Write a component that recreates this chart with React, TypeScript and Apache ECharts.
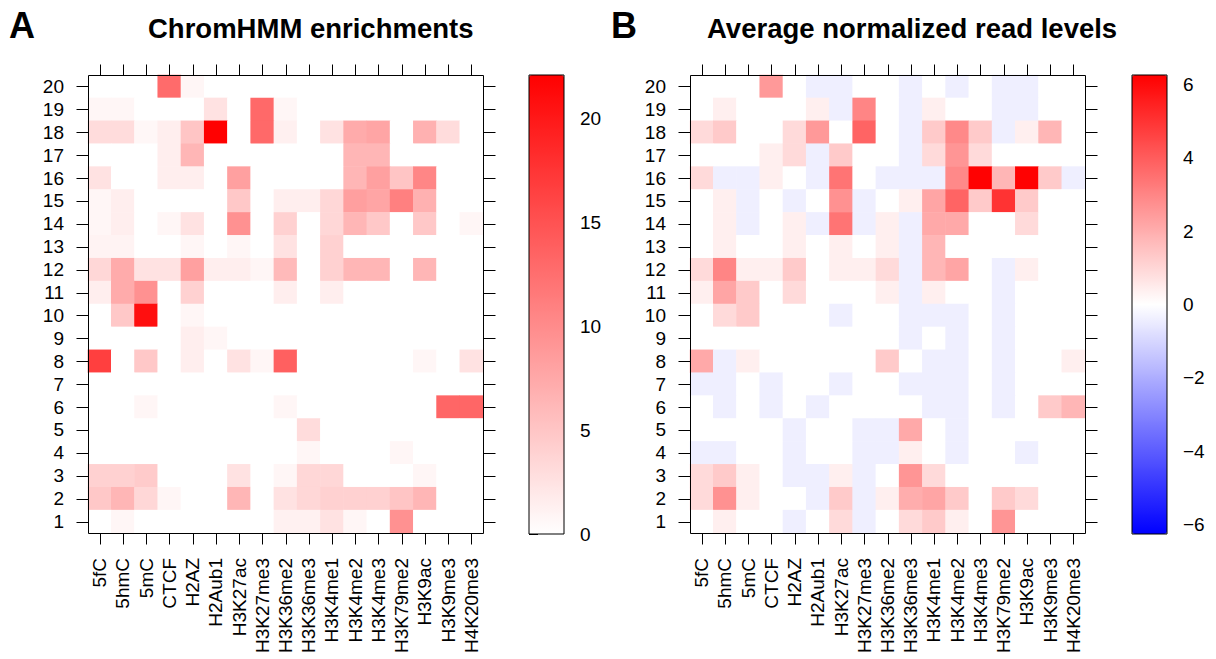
import React, { useEffect, useRef } from 'react';
import * as echarts from 'echarts';

const marks = ['5fC', '5hmC', '5mC', 'CTCF', 'H2AZ', 'H2Aub1', 'H3K27ac', 'H3K27me3', 'H3K36me2', 'H3K36me3', 'H3K4me1', 'H3K4me2', 'H3K4me3', 'H3K79me2', 'H3K9ac', 'H3K9me3', 'H4K20me3'];
const states = ['1', '2', '3', '4', '5', '6', '7', '8', '9', '10', '11', '12', '13', '14', '15', '16', '17', '18', '19', '20'];
const enrichTicks = [0, 5, 10, 15, 20];
const levelTicks = [-6, -4, -2, 0, 2, 4, 6];
const enrichMax = 22.1;
const levelMax = 6.25;

// rows listed from state 20 (top) down to state 1 (bottom)
const chromhmmTopDown: number[][] = [
  [0, 0, 0, 12.8, 0.8, 0, 0, 0, 0, 0, 0, 0, 0, 0, 0, 0, 0],
  [0.8, 0.8, 0, 0, 0, 2.5, 0, 13, 0.8, 0, 0, 0, 0, 0, 0, 0, 0],
  [3, 3, 0.7, 1.5, 5, 22, 0, 13, 1.3, 0, 2.5, 7.3, 7.8, 0, 6.8, 3, 0],
  [0, 0, 0, 1.5, 6.3, 0, 0, 0, 0, 0, 0, 6.3, 6.3, 0, 0, 0, 0],
  [2.5, 0, 0, 1.5, 1.5, 0, 8.2, 0, 0, 0, 0, 6.3, 8.2, 5, 10.5, 0, 0],
  [0.8, 1.5, 0, 0, 0, 0, 4.8, 0, 1.5, 1.5, 3.5, 8.3, 7.8, 11, 6.8, 0, 0],
  [0.8, 1.5, 0, 0.8, 2.5, 0, 9.5, 0, 4, 0, 3.5, 6.3, 4.8, 0, 4.8, 0, 0.8],
  [1, 1, 0, 0, 0.8, 0, 0.8, 0, 2.5, 0, 4, 0, 0, 0, 0, 0, 0],
  [3.5, 7.3, 2.5, 2.5, 8.2, 1.5, 1.5, 0.8, 6, 0, 4, 6.3, 6.3, 0, 6.3, 0, 0],
  [1.5, 7.3, 9.5, 0, 4, 0, 0, 0, 1.5, 0, 1.5, 0, 0, 0, 0, 0, 0],
  [0, 4.8, 20.8, 0, 0.8, 0, 0, 0, 0, 0, 0, 0, 0, 0, 0, 0, 0],
  [0, 0, 0, 0, 1.5, 0.8, 0, 0, 0, 0, 0, 0, 0, 0, 0, 0, 0],
  [16.6, 0, 4.8, 0, 1.5, 0, 2.5, 0.8, 13.8, 0, 0, 0, 0, 0, 0.8, 0, 2.5],
  [0, 0, 0, 0, 0, 0, 0, 0, 0, 0, 0, 0, 0, 0, 0, 0, 0],
  [0, 0, 0.8, 0, 0, 0, 0, 0, 0.8, 0, 0, 0, 0, 0, 0, 13.3, 13.3],
  [0, 0, 0, 0, 0, 0, 0, 0, 0, 3, 0, 0, 0, 0, 0, 0, 0],
  [0, 0, 0, 0, 0, 0, 0, 0, 0, 0.8, 0, 0, 0, 0.8, 0, 0, 0],
  [4, 4, 4.5, 0, 0, 0, 2.5, 0, 0.8, 3.5, 3.5, 0, 0, 0, 0.8, 0, 0],
  [4.8, 6.3, 3.5, 0.8, 0, 0, 6.3, 0, 2.5, 3.5, 4, 4, 4, 5, 6.3, 0, 0],
  [0, 0.8, 0, 0, 0, 0, 0, 0, 1.2, 1.2, 2.5, 0.8, 0, 9.5, 0, 0, 0],
];

const readLevelsTopDown: number[][] = [
  [0, 0, 0, 2.5, 0, -0.4, -0.4, 0, 0, -0.4, 0, -0.4, 0, -0.4, -0.4, 0, 0],
  [0, 0.4, 0, 0, 0, 0.4, -0.4, 3.0, 0, -0.4, 0.4, 0, 0, -0.4, -0.4, 0, 0],
  [0.9, 1.3, 0, 0, 0.9, 2.5, 0, 3.8, 0, -0.4, 1.3, 2.9, 1.3, -0.4, 0.4, 1.8, 0],
  [0, 0, 0, 0.4, 0.9, -0.4, 1.3, 0, 0, -0.4, 0.9, 2.6, 0.9, 0, 0, 0, 0],
  [0.9, -0.4, -0.4, 0.4, 0, -0.4, 3.4, 0, -0.4, -0.4, -0.4, 2.9, 6.2, 1.8, 6.2, 1.3, -0.4],
  [0, 0.4, -0.4, 0, -0.4, 0, 2.7, -0.4, 0, 0.4, 2.2, 3.8, 1.3, 5.0, 1.3, 0, 0],
  [0, 0.4, -0.4, 0, 0.4, -0.4, 3.4, -0.4, 0.4, -0.4, 2.1, 2.1, 0, 0, 0.9, 0, 0],
  [0, 0.4, 0, 0, 0.4, 0, 0.4, 0, 0.4, -0.4, 1.8, 0, 0, 0, 0, 0, 0],
  [0.9, 3.0, 0.4, 0.4, 1.3, 0, 0.4, 0.4, 0.9, -0.4, 1.8, 2.2, 0, -0.4, 0.4, 0, 0],
  [0.4, 2.2, 1.3, 0, 0.9, 0, 0, 0, 0.4, -0.4, 0.4, 0, 0, -0.4, 0, 0, 0],
  [0, 0.9, 1.3, 0, 0, 0, -0.4, 0, 0, -0.4, -0.4, -0.4, 0, -0.4, 0, 0, 0],
  [0, 0, 0, 0, 0, 0, 0, 0, 0, -0.4, 0, -0.4, 0, -0.4, 0, 0, 0],
  [2.1, -0.4, 0.4, 0, 0, 0, 0, 0, 1.3, 0, -0.4, -0.4, 0, -0.4, 0, 0, 0.4],
  [-0.4, -0.4, 0, -0.4, 0, 0, -0.4, 0, 0, -0.4, -0.4, -0.4, 0, -0.4, 0, 0, 0],
  [0, -0.4, 0, -0.4, 0, -0.4, 0, 0, 0, 0, -0.4, -0.4, 0, -0.4, 0, 1.3, 1.8],
  [0, 0, 0, 0, -0.4, 0, 0, -0.4, -0.4, 2.1, 0, -0.4, 0, 0, 0, 0, 0],
  [-0.4, -0.4, 0, 0, -0.4, 0, 0, -0.4, -0.4, 0.4, 0, -0.4, 0, 0, -0.4, 0, 0],
  [0.9, 1.3, 0.4, 0, -0.4, -0.4, 0.4, -0.4, 0, 2.6, 0.9, 0, 0, 0, 0, 0, 0],
  [0.9, 2.7, 0.4, 0, 0, -0.4, 1.3, -0.4, 0.4, 2.0, 2.2, 1.3, 0, 1.3, 0.9, 0, 0],
  [0, 0.4, 0, 0, -0.4, 0, 0.9, -0.4, 0, 0.9, 1.3, 0.4, 0, 2.6, 0, 0, 0],
];

const FONT = "'Liberation Sans', Arial, Helvetica, sans-serif";
const LABEL_SIZE = 19;

function toCells(rows: number[][]) {
  const out: number[][] = [];
  rows.forEach((row, r) => {
    const yi = rows.length - 1 - r;
    row.forEach((v, xi) => out.push([xi, yi, v]));
  });
  return out;
}

const ls = () => ({ color: '#000', width: 1, type: 'solid' });

const PANEL_A = { left: 88, top: 75, width: 395, height: 458 };
const PANEL_B = { left: 690, top: 75, width: 395, height: 458 };
const KEY_A = { left: 529, top: 75, width: 35, height: 459 };
const KEY_B = { left: 1132, top: 75, width: 35, height: 459 };
const X_TICK = 11;
const Y_TICK = 12;

function labelAxis(kind: 'x' | 'y', gridIndex: number) {
  const isX = kind === 'x';
  return {
    type: 'category', gridIndex, data: isX ? marks : states, position: isX ? 'bottom' : 'left',
    axisLine: { show: false },
    axisTick: { show: false },
    axisLabel: isX
      ? { show: true, rotate: 90, margin: 25, interval: 0, fontSize: LABEL_SIZE, color: '#000', fontFamily: FONT }
      : { show: true, margin: 24, interval: 0, fontSize: LABEL_SIZE, color: '#000', fontFamily: FONT },
    splitLine: { show: false },
  };
}

function barAxes(gridIndex: number, min: number, max: number, ticks: number[]) {
  const x = { type: 'value', gridIndex, min: 0, max: 1, show: false };
  const y = {
    type: 'value', gridIndex, min, max, position: 'right',
    axisLine: { show: false },
    axisTick: { show: true, length: 9, lineStyle: ls(), customValues: ticks },
    axisLabel: {
      show: true, margin: 16, fontSize: LABEL_SIZE, color: '#000', fontFamily: FONT,
      customValues: ticks,
      formatter: (v: number) => String(v).replace('-', '\u2212'),
    },
    splitLine: { show: false },
  };
  return { x, y };
}

// panel frame and outward tick marks on all four sides, one tick per category band centre
function panelDecor(P: { left: number; top: number; width: number; height: number }) {
  const st = { stroke: '#000', lineWidth: 1 };
  const els: any[] = [
    { type: 'rect', z: 100, silent: true, shape: { x: P.left + 0.5, y: P.top + 0.5, width: P.width, height: P.height }, style: { fill: 'none', ...st } },
  ];
  const bottom = P.top + P.height + 0.5;
  const right = P.left + P.width + 0.5;
  marks.forEach((_, i) => {
    const cx = Math.round(P.left + (i + 0.5) * (P.width / marks.length)) + 0.5;
    els.push({ type: 'line', z: 100, silent: true, shape: { x1: cx, y1: bottom, x2: cx, y2: bottom + X_TICK }, style: st });
    els.push({ type: 'line', z: 100, silent: true, shape: { x1: cx, y1: P.top + 0.5, x2: cx, y2: P.top + 0.5 - X_TICK }, style: st });
  });
  states.forEach((_, j) => {
    const cy = Math.round(P.top + (j + 0.5) * (P.height / states.length)) + 0.5;
    els.push({ type: 'line', z: 100, silent: true, shape: { x1: P.left + 0.5, y1: cy, x2: P.left + 0.5 - Y_TICK, y2: cy }, style: st });
    els.push({ type: 'line', z: 100, silent: true, shape: { x1: right, y1: cy, x2: right + Y_TICK, y2: cy }, style: st });
  });
  return els;
}

const frame = { show: true, z: 10, backgroundColor: 'transparent', borderColor: '#000', borderWidth: 1 };

export default function App() {
  const ref = useRef<HTMLDivElement>(null);
  useEffect(() => {
    if (!ref.current) return;
    const chart = echarts.init(ref.current, undefined, { renderer: 'svg' });
    const ca = barAxes(2, 0, enrichMax, enrichTicks);
    const cb = barAxes(3, -levelMax, levelMax, levelTicks);
    chart.setOption({
      animation: false,
      backgroundColor: '#fff',
      grid: [
        { ...PANEL_A },
        { ...PANEL_B },
        { ...KEY_A, ...frame },
        { ...KEY_B, ...frame },
      ],
      xAxis: [labelAxis('x', 0), labelAxis('x', 1), ca.x, cb.x],
      yAxis: [labelAxis('y', 0), labelAxis('y', 1), ca.y, cb.y],
      visualMap: [
        {
          type: 'continuous', seriesIndex: 0, min: 0, max: enrichMax,
          inRange: { color: ['#FFFFFF', '#FF0000'] },
          left: KEY_A.left, top: KEY_A.top, itemWidth: KEY_A.width, itemHeight: KEY_A.height, padding: 0,
          calculable: false, hoverLink: false, orient: 'vertical',
        },
        {
          type: 'continuous', seriesIndex: 1, min: -levelMax, max: levelMax,
          inRange: { color: ['#0000FF', '#FFFFFF', '#FF0000'] },
          left: KEY_B.left, top: KEY_B.top, itemWidth: KEY_B.width, itemHeight: KEY_B.height, padding: 0,
          calculable: false, hoverLink: false, orient: 'vertical',
        },
      ],
      series: [
        {
          type: 'heatmap', xAxisIndex: 0, yAxisIndex: 0, data: toCells(chromhmmTopDown),
          itemStyle: { borderWidth: 0 }, emphasis: { disabled: true },
        },
        {
          type: 'heatmap', xAxisIndex: 1, yAxisIndex: 1, data: toCells(readLevelsTopDown),
          itemStyle: { borderWidth: 0 }, emphasis: { disabled: true },
        },
      ],
      graphic: [
        ...panelDecor(PANEL_A),
        ...panelDecor(PANEL_B),
        { type: 'text', x: 9, y: 25, style: { text: 'A', fontSize: 36, fontWeight: 'bold', fontFamily: FONT, fill: '#000', verticalAlign: 'middle' } },
        { type: 'text', x: 148, y: 28, style: { text: 'ChromHMM enrichments', fontSize: 27.5, fontWeight: 'bold', fontFamily: FONT, fill: '#000', verticalAlign: 'middle' } },
        { type: 'text', x: 611, y: 25, style: { text: 'B', fontSize: 36, fontWeight: 'bold', fontFamily: FONT, fill: '#000', verticalAlign: 'middle' } },
        { type: 'text', x: 707, y: 28, style: { text: 'Average normalized read levels', fontSize: 27.5, fontWeight: 'bold', fontFamily: FONT, fill: '#000', verticalAlign: 'middle' } },
      ],
    });
    return () => chart.dispose();
  }, []);
  return <div ref={ref} style={{ position: 'fixed', left: 0, top: 0, width: 1216, height: 659 }} />;
}
